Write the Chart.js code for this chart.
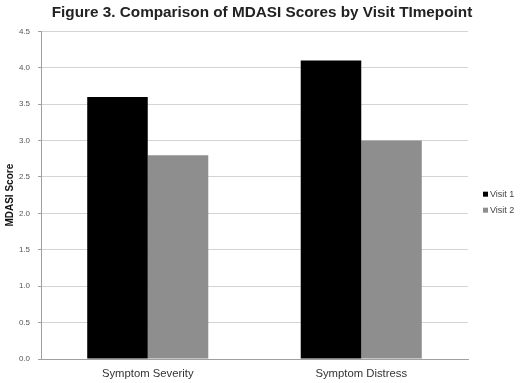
<!DOCTYPE html>
<html>
<head>
<meta charset="utf-8">
<script src="https://cdn.jsdelivr.net/npm/chart.js@4/dist/chart.umd.min.js"></script>
<style>
  html, body { margin: 0; padding: 0; background: #fff; }
  #wrap { width: 520px; height: 383px; }
</style>
</head>
<body>
<div id="wrap"><canvas id="chartMdasi"></canvas></div>
<script>
var categories = ["Symptom Severity", "Symptom Distress"];
var visit1 = [3.6, 4.1];
var visit2 = [2.8, 3.0];
var seriesNames = ["Visit 1", "Visit 2"];
var yTicks = [0, 0.5, 1.0, 1.5, 2.0, 2.5, 3.0, 3.5, 4.0, 4.5];

// small legend on the right, drawn by hand so it sits like the original
var sideLegend = {
    id: "sideLegend",
    afterDraw: function (chart) {
        var c = chart.ctx;
        var area = chart.chartArea;
        var x = area.right + 15;
        var y = (area.top + area.bottom) / 2 - 1;
        c.save();
        c.font = "9px 'Liberation Sans'";
        c.textBaseline = "middle";
        chart.data.datasets.forEach(function (ds, i) {
            var yy = y + i * 16;
            c.fillStyle = ds.backgroundColor;
            c.fillRect(x, yy - 2.5, 5, 5);
            c.fillStyle = "#444";
            c.fillText(ds.label, x + 7, yy);
        });
        c.restore();
    }
};

var ctx_chart = document.getElementById("chartMdasi").getContext("2d");
var chart = new Chart(ctx_chart, {
    type: "bar",
    data: {
        labels: categories,
        datasets: [{
            label: seriesNames[0],
            data: visit1,
            backgroundColor: "#000000"
        }, {
            label: seriesNames[1],
            data: visit2,
            backgroundColor: "#8e8e8e"
        }]
    },
    options: {
        responsive: true,
        maintainAspectRatio: false,
        animation: false,
        layout: { padding: { left: 4, right: 0, top: 0, bottom: 0 } },
        datasets: {
            bar: { categoryPercentage: 0.567, barPercentage: 1.0 }
        },
        scales: {
            x: {
                grid: { display: false, drawTicks: false, tickLength: 0 },
                border: { color: "#a0a0a0" },
                ticks: {
                    color: "#333",
                    font: { family: "Liberation Sans", size: 11.3 },
                    padding: 8
                },
                afterFit: function (scale) { scale.height = 24; }
            },
            y: {
                min: 0,
                max: 4.5,
                afterBuildTicks: function (axis) {
                    axis.ticks = yTicks.map(function (v) { return { value: v }; });
                },
                grid: { color: "#d4d4d4", tickLength: 3, tickColor: "#a0a0a0" },
                border: { color: "#a0a0a0" },
                ticks: {
                    color: "#555",
                    font: { family: "Liberation Sans", size: 8 },
                    padding: 8,
                    callback: function (v) { return Number(v).toFixed(1); }
                },
                title: {
                    display: true,
                    text: "MDASI Score",
                    color: "#111",
                    font: { family: "Liberation Sans", size: 10, weight: "bold" },
                    padding: { top: 0, bottom: 0 }
                },
                afterFit: function (scale) { scale.width = 37; }
            },
            // empty space on the right that holds the legend
            yLegendSpace: {
                position: "right",
                display: true,
                grid: { display: false, drawTicks: false },
                border: { display: false },
                ticks: { display: false },
                afterFit: function (scale) { scale.width = 52; }
            }
        },
        plugins: {
            title: {
                display: true,
                text: "Figure 3. Comparison of MDASI Scores by Visit TImepoint",
                color: "#222",
                font: { family: "Liberation Sans", size: 15.3, weight: "bold" },
                padding: { top: 4, bottom: 9 }
            },
            legend: { display: false },
            tooltip: { enabled: false }
        }
    },
    plugins: [sideLegend]
});
</script>
</body>
</html>
